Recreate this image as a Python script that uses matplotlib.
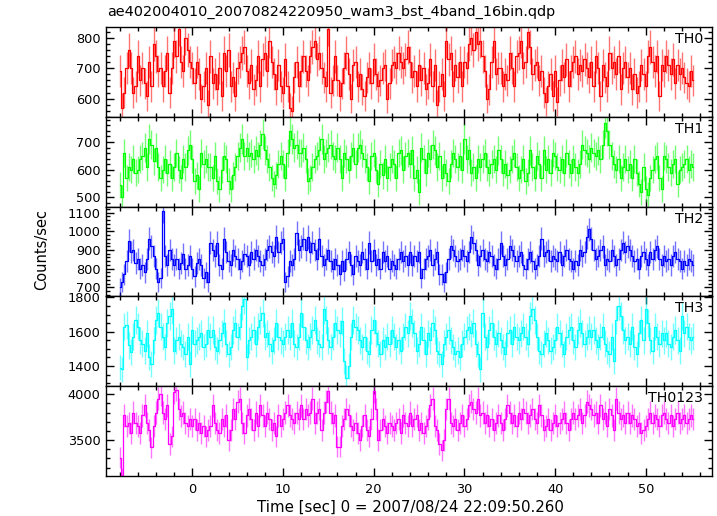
import numpy as np
import matplotlib
matplotlib.use('Agg')
import matplotlib.pyplot as plt
from matplotlib.ticker import MultipleLocator

plt.rcParams['font.family'] = ['DejaVu Sans']

# light curve: 0.25 s bins starting at t = -8 s
t_start = -8.0
bin_width = 0.25

th0 = [690, 570, 620, 700, 760, 700, 620, 640,  740, 660, 700, 650, 610, 720, 640, 780,
       740, 690, 700, 640, 690, 750, 620, 700,  790, 740, 830, 720, 690, 800, 760, 720,
       700, 650, 720, 680, 600, 640, 700, 580,  740, 650, 680, 630, 700, 610, 750, 690,
       760, 640, 670, 610, 700, 720, 750, 770,  690, 650, 710, 630, 660, 740, 640, 730,
       750, 690, 790, 720, 680, 630, 710, 640,  620, 730, 640, 570, 560, 670, 720, 640,
       690, 740, 690, 660, 740, 770, 790, 730,  750, 700, 670, 640, 830, 620, 660, 740,
       660, 610, 650, 700, 750, 680, 600, 710,  720, 640, 680, 630, 610, 670, 700, 650,
       730, 680, 640, 660, 700, 710, 600, 650,  710, 720, 700, 750, 720, 700, 730, 770,
       720, 670, 690, 640, 710, 660, 700, 630,  650, 730, 640, 710, 580, 640, 680, 610,
       790, 730, 750, 640, 710, 670, 720, 640,  720, 700, 780, 800, 760, 820, 780, 790,
       740, 690, 600, 630, 720, 790, 680, 700,  700, 640, 680, 660, 750, 700, 640, 740,
       750, 790, 700, 720, 820, 770, 680, 710,  720, 660, 690, 620, 590, 640, 680, 610,
       690, 590, 660, 710, 670, 730, 640, 690,  720, 740, 680, 710, 690, 730, 700, 670,
       720, 640, 740, 700, 610, 710, 670, 640,  750, 700, 720, 680, 740, 630, 700, 720,
       670, 700, 630, 680, 620, 640, 710, 680,  640, 740, 770, 720, 690, 740, 610, 710,
       690, 740, 710, 680, 730, 650, 710, 680,  700, 670, 650, 640, 690, 660]

th1 = [545, 500, 660, 570, 610, 600, 640, 590,  600, 640, 650, 680, 610, 710, 690, 630,
       680, 610, 570, 600, 640, 590, 620, 570,  610, 660, 600, 570, 640, 610, 670, 690,
       640, 560, 580, 530, 660, 620, 640, 610,  610, 570, 650, 560, 530, 600, 650, 640,
       560, 530, 580, 610, 650, 680, 710, 650,  680, 650, 660, 640, 670, 650, 690, 730,
       670, 640, 610, 570, 550, 580, 620, 650,  620, 570, 660, 740, 710, 680, 690, 660,
       660, 680, 640, 560, 570, 610, 640, 650,  670, 710, 640, 660, 680, 690, 650, 640,
       680, 640, 570, 660, 640, 600, 650, 680,  620, 680, 690, 660, 640, 610, 560, 650,
       660, 600, 550, 620, 580, 640, 570, 610,  640, 620, 570, 660, 670, 600, 650, 660,
       620, 670, 570, 600, 520, 680, 640, 590,  660, 640, 690, 670, 610, 650, 570, 620,
       590, 560, 620, 660, 640, 610, 650, 600,  710, 640, 670, 590, 610, 570, 640, 610,
       640, 660, 610, 590, 620, 640, 600, 670,  640, 590, 620, 580, 600, 640, 660, 610,
       570, 600, 640, 560, 590, 670, 610, 570,  650, 620, 570, 670, 600, 640, 590, 660,
       650, 610, 600, 640, 590, 660, 620, 590,  640, 610, 590, 620, 690, 670, 660, 640,
       680, 660, 650, 670, 640, 690, 770, 740,  690, 650, 620, 600, 640, 570, 610, 640,
       600, 620, 570, 640, 590, 550, 520, 610,  530, 510, 570, 600, 640, 650, 570, 530,
       650, 640, 610, 590, 620, 640, 550, 600,  610, 620, 640, 600, 620, 610]

th2 = [700, 730, 770, 840, 950, 890, 900, 830,  850, 800, 820, 780, 850, 960, 920, 870,
       800, 730, 750, 1110, 870, 820, 900, 850,  820, 850, 800, 830, 880, 800, 820, 870,
       800, 760, 830, 850, 820, 750, 780, 730,  940, 900, 870, 940, 820, 800, 960, 890,
       840, 820, 900, 870, 850, 800, 840, 880,  870, 820, 890, 850, 900, 870, 840, 820,
       850, 900, 920, 890, 870, 970, 890, 940,  960, 730, 760, 840, 820, 850, 990, 900,
       920, 960, 900, 970, 890, 940, 900, 850,  960, 870, 820, 850, 900, 840, 800, 850,
       820, 770, 840, 790, 850, 890, 820, 770,  870, 840, 820, 890, 850, 800, 940, 840,
       900, 820, 850, 800, 890, 840, 870, 800,  840, 820, 800, 850, 890, 840, 870, 820,
       890, 820, 870, 840, 890, 750, 800, 850,  870, 900, 820, 850, 890, 770, 770, 730,
       780, 850, 920, 900, 870, 840, 850, 900,  870, 840, 890, 970, 940, 900, 820, 870,
       900, 850, 840, 890, 870, 820, 800, 850,  940, 870, 820, 850, 920, 900, 870, 840,
       870, 890, 820, 800, 850, 890, 840, 800,  820, 870, 960, 870, 890, 900, 840, 870,
       850, 840, 890, 820, 870, 900, 850, 840,  800, 840, 820, 900, 870, 890, 970, 1010,
       960, 900, 850, 870, 900, 920, 820, 850,  840, 900, 870, 820, 850, 900, 940, 890,
       920, 900, 870, 840, 850, 800, 870, 890,  850, 820, 890, 850, 900, 920, 850, 820,
       870, 840, 850, 820, 870, 890, 850, 840,  800, 840, 820, 850, 840, 820]

th3 = [1390, 1380, 1630, 1640, 1520, 1480, 1570, 1670,  1630, 1550, 1530, 1490, 1590, 1450, 1410, 1550,
       1670, 1710, 1630, 1570, 1510, 1650, 1690, 1730,  1490, 1550, 1570, 1530, 1510, 1470, 1570, 1410,
       1610, 1530, 1550, 1570, 1590, 1510, 1530, 1610,  1570, 1610, 1510, 1490, 1550, 1590, 1650, 1530,
       1470, 1510, 1610, 1650, 1570, 1630, 1750, 1790,  1450, 1550, 1570, 1610, 1530, 1630, 1670, 1710,
       1570, 1590, 1530, 1490, 1550, 1650, 1570, 1550,  1530, 1570, 1610, 1570, 1650, 1530, 1510, 1570,
       1710, 1630, 1550, 1510, 1570, 1610, 1670, 1550,  1530, 1510, 1730, 1670, 1550, 1510, 1570, 1650,
       1610, 1590, 1660, 1430, 1330, 1400, 1570, 1670,  1630, 1610, 1550, 1510, 1570, 1490, 1470, 1610,
       1670, 1590, 1530, 1470, 1550, 1510, 1570, 1530,  1610, 1570, 1510, 1550, 1490, 1570, 1630, 1590,
       1690, 1650, 1590, 1490, 1530, 1630, 1550, 1470,  1590, 1550, 1650, 1610, 1490, 1470, 1410, 1530,
       1570, 1610, 1550, 1510, 1470, 1490, 1450, 1530,  1570, 1610, 1630, 1590, 1650, 1530, 1470, 1380,
       1710, 1570, 1510, 1610, 1650, 1570, 1530, 1590,  1550, 1510, 1470, 1590, 1610, 1530, 1630, 1570,
       1550, 1590, 1630, 1570, 1530, 1690, 1730, 1670,  1570, 1490, 1470, 1530, 1590, 1550, 1490, 1510,
       1550, 1630, 1590, 1530, 1470, 1570, 1610, 1630,  1550, 1510, 1610, 1650, 1590, 1530, 1570, 1610,
       1570, 1610, 1550, 1510, 1570, 1630, 1530, 1490,  1470, 1570, 1430, 1670, 1750, 1690, 1610, 1550,
       1570, 1530, 1630, 1510, 1470, 1590, 1670, 1550,  1730, 1650, 1550, 1490, 1630, 1570, 1530, 1590,
       1550, 1590, 1530, 1510, 1570, 1610, 1550, 1490,  1690, 1590, 1630, 1570, 1550, 1570]

th0123 = [3310, 3090, 3770, 3650, 3690, 3580, 3800, 3690,  3650, 3580, 3770, 3880, 3690, 3610, 3420, 3650,
          3800, 3950, 4000, 3800, 3730, 3880, 3460, 3540,  4020, 4050, 3840, 3760, 3800, 3690, 3650, 3730,
          3650, 3730, 3610, 3690, 3580, 3650, 3540, 3610,  3650, 3880, 3690, 3610, 3580, 3730, 3650, 3770,
          3500, 3610, 3840, 3730, 3920, 3950, 3690, 3580,  3770, 3840, 3730, 3610, 3800, 3650, 3880, 3770,
          3650, 3800, 3730, 3610, 3690, 3540, 3770, 3650,  3730, 3800, 3880, 3770, 3730, 3690, 3800, 3730,
          3880, 3730, 3840, 3770, 3800, 3950, 3690, 3800,  3840, 3610, 3800, 3920, 4030, 3800, 3690, 3770,
          3430, 3430, 3650, 3730, 3840, 3770, 3650, 3610,  3690, 3580, 3500, 3650, 3770, 3610, 3540, 3730,
          4030, 3840, 3500, 3610, 3730, 3650, 3580, 3690,  3650, 3610, 3690, 3730, 3580, 3770, 3690, 3650,
          3800, 3650, 3730, 3770, 3610, 3690, 3580, 3650,  3730, 3880, 3950, 3650, 3610, 3460, 3390, 3500,
          3840, 3950, 3690, 3650, 3730, 3610, 3690, 3770,  3650, 3730, 3880, 3920, 3840, 3800, 3950, 3770,
          3800, 3690, 3770, 3650, 3730, 3610, 3690, 3770,  3690, 3610, 3730, 3880, 3800, 3690, 3770, 3650,
          3800, 3730, 3840, 3800, 3690, 3770, 3840, 3730,  3690, 3880, 3770, 3610, 3650, 3730, 3610, 3690,
          3770, 3650, 3690, 3730, 3800, 3690, 3610, 3730,  3800, 3730, 3770, 3840, 3690, 3770, 3920, 3880,
          3840, 3770, 3800, 3690, 3880, 3730, 3800, 3650,  3840, 3770, 3610, 3950, 3800, 3730, 3770, 3690,
          3800, 3690, 3770, 3730, 3650, 3690, 3580, 3610,  3650, 3730, 3800, 3690, 3770, 3730, 3650, 3770,
          3800, 3730, 3690, 3770, 3650, 3730, 3800, 3690,  3730, 3770, 3690, 3730, 3770, 3730]

bands = ['TH0', 'TH1', 'TH2', 'TH3', 'TH0123']
series = [th0, th1, th2, th3, th0123]
colors = ['#ff0000', '#00ff00', '#0000ff', '#00ffff', '#ff00ff']
ylims = [(540, 836), (467, 791), (652, 1132), (1282, 1806), (3109, 4087)]
major_step = [100, 100, 100, 200, 500]
minor_step = [20, 20, 20, 50, 100]

fig = plt.figure(figsize=(7.17, 5.16), dpi=100)
gs = fig.add_gridspec(5, 1, left=0.148, right=0.993, top=0.9477, bottom=0.0775, hspace=0)

axes = []
for i in range(5):
    ax = fig.add_subplot(gs[i], sharex=axes[0] if axes else None)
    axes.append(ax)
    rate = np.array(series[i], dtype=float)
    t = t_start + bin_width * np.arange(len(rate))
    err = np.sqrt(rate / bin_width)
    # error bars lighter, step line on top
    ax.errorbar(t, rate, yerr=err, fmt='none', ecolor=colors[i], elinewidth=1, alpha=0.55)
    ax.step(t, rate, where='mid', color=colors[i], lw=0.9)
    ax.set_ylim(*ylims[i])
    ax.yaxis.set_major_locator(MultipleLocator(major_step[i]))
    ax.yaxis.set_minor_locator(MultipleLocator(minor_step[i]))
    ax.xaxis.set_major_locator(MultipleLocator(10))
    ax.xaxis.set_minor_locator(MultipleLocator(2))
    ax.tick_params(which='both', direction='in', top=True, right=True, labelsize=9.3, width=1)
    ax.tick_params(which='major', length=6)
    ax.tick_params(which='minor', length=3)
    ax.tick_params(axis='x', pad=5)
    ax.tick_params(axis='y', pad=4)
    if i < 4:
        ax.tick_params(labelbottom=False)
    ax.text(0.985, 0.945, bands[i], transform=ax.transAxes, ha='right', va='top', fontsize=10.2)
    for s in ax.spines.values():
        s.set_linewidth(1)

axes[0].set_xlim(-9.5, 57.3)

fig.text(0.149, 1 - 12 / 516, 'ae402004010_20070824220950_wam3_bst_4band_16bin.qdp',
         ha='left', va='center', fontsize=10.4)
fig.text(42 / 717, 1 - 250 / 516, 'Counts/sec', rotation=90, ha='center', va='center', fontsize=10.5)
fig.text(410 / 717, 1 - 507 / 516, 'Time [sec] 0 = 2007/08/24 22:09:50.260',
         ha='center', va='center', fontsize=10.8)

fig.savefig('out.png', dpi=100)
